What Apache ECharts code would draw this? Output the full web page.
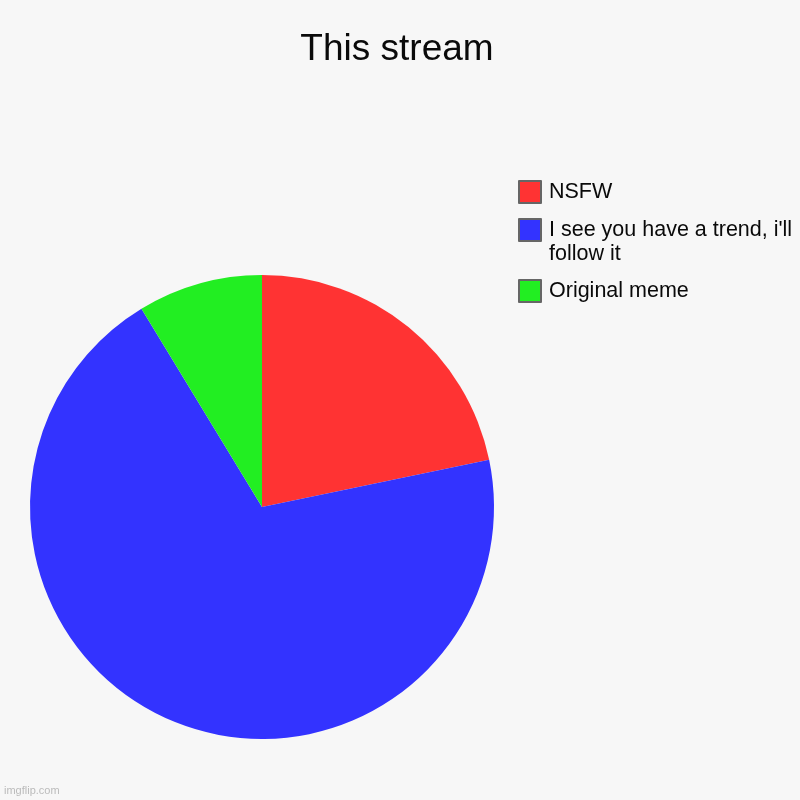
<!DOCTYPE html>
<html>
<head>
<meta charset="utf-8">
<script src="https://cdn.jsdelivr.net/npm/echarts@6/dist/echarts.min.js"></script>
<style>
html,body{margin:0;padding:0;background:#f7f7f7;}
#chart{width:800px;height:800px;}
</style>
</head>
<body>
<div id="chart"></div>
<script>
const categories = ['NSFW', "I see you have a trend, i'll follow it", 'Original meme'];
const legendLines = [['NSFW'], ["I see you have a trend, i'll", 'follow it'], ['Original meme']];
const values = [5, 16, 2];
const colors = ['#ff3333', '#3333ff', '#22ee22'];

const chart = echarts.init(document.getElementById('chart'));
const font = 'Liberation Sans, Arial, sans-serif';
const legendTops = [180, 194, 279];

function legendText(i) {
  const lines = legendLines[i].map(l => '{t|' + l + '}');
  if (lines.length > 1) lines.unshift('{s| }');
  return lines.join('\n');
}

const legends = categories.map((c, i) => ({
  data: [c],
  left: 518,
  top: legendTops[i],
  orient: 'vertical',
  padding: 0,
  itemWidth: 22,
  itemHeight: 22,
  icon: 'rect',
  itemStyle: { borderColor: '#666', borderWidth: 2 },
  selectedMode: false,
  formatter: () => legendText(i),
  textStyle: {
    fontFamily: font, fontSize: 21.5, color: '#0a0a0a', lineHeight: 24,
    rich: {
      t: { fontFamily: font, fontSize: 21.5, color: '#0a0a0a', lineHeight: 24, padding: [0, 0, 0, 3] },
      s: { fontSize: 21.5, lineHeight: 24 }
    }
  }
}));

chart.setOption({
  backgroundColor: '#f7f7f7',
  animation: false,
  title: {
    text: 'This stream',
    left: 392,
    top: 26,
    textAlign: 'center',
    textStyle: { fontFamily: font, fontSize: 37, fontWeight: 'normal', color: '#0a0a0a' }
  },
  legend: legends,
  graphic: [{
    type: 'text', left: 4, top: 785,
    style: { text: 'imgflip.com', font: '11px ' + font, fill: '#bbb' }
  }],
  series: [{
    type: 'pie',
    center: [262, 507],
    radius: 232,
    startAngle: 90,
    clockwise: true,
    label: { show: false },
    labelLine: { show: false },
    emphasis: { disabled: true },
    data: categories.map((c, i) => ({ name: c, value: values[i], itemStyle: { color: colors[i] } }))
  }]
});
</script>
</body>
</html>
